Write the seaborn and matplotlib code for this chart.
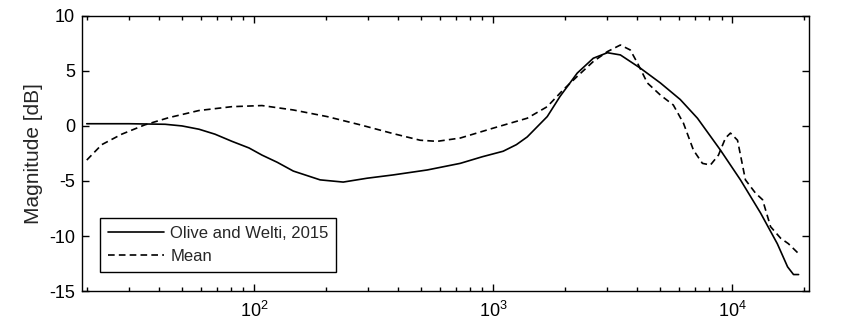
import numpy as np
import pandas as pd
import matplotlib
matplotlib.use('Agg')
import matplotlib.pyplot as plt
import seaborn as sns

# Olive and Welti, 2015 target curve
olive_freq = [20, 30, 42.5, 50, 58.9, 68.7, 80.9, 95.3, 108, 125, 146, 189, 236, 297,
              382, 530, 728, 900, 1100, 1250, 1387, 1682, 1905, 2245, 2620, 3000,
              3400, 4120, 5000, 6050, 7140, 8910, 10800, 13100, 15400, 17000,
              18000, 18900]
olive_db = [0.2, 0.2, 0.15, 0.0, -0.3, -0.75, -1.4, -2.0, -2.65, -3.3, -4.1, -4.9, -5.1, -4.75,
            -4.45, -4.0, -3.4, -2.8, -2.3, -1.7, -1.0, 0.85, 2.7, 4.8, 6.15, 6.65,
            6.45, 5.25, 3.9, 2.4, 0.7, -2.2, -4.9, -7.9, -10.7, -12.8,
            -13.5, -13.5]

# Mean curve
mean_freq = [20, 23.1, 28, 35, 44, 58.9, 80.9, 108, 146, 202, 278, 382, 495, 583, 728,
             1000, 1387, 1682, 1965, 2245, 2620, 3000, 3400, 3740, 4010, 4410, 5000,
             5660, 6240, 6870, 7490, 8090, 8740, 9350, 9810, 10500, 11330, 12480,
             13360, 14430, 15900, 17140, 18900]
mean_db = [-3.1, -1.7, -0.75, 0.1, 0.75, 1.4, 1.75, 1.85, 1.45, 0.85, 0.1, -0.7, -1.3, -1.4, -1.1,
           -0.2, 0.7, 1.75, 3.3, 4.5, 5.85, 6.75, 7.35, 6.9, 5.7, 3.9, 2.8,
           1.9, 0.25, -2.2, -3.4, -3.55, -2.65, -1.1, -0.65, -1.3, -4.9, -6.1,
           -6.7, -9.15, -10.2, -10.7, -11.6]

series_names = ['Olive and Welti, 2015', 'Mean']

df = pd.concat([
    pd.DataFrame({'freq': olive_freq, 'db': olive_db, 'curve': series_names[0]}),
    pd.DataFrame({'freq': mean_freq, 'db': mean_db, 'curve': series_names[1]}),
])

sns.set_style('ticks')
plt.rcParams['font.family'] = ['Liberation Sans', 'DejaVu Sans']
plt.rcParams['mathtext.fontset'] = 'custom'
plt.rcParams['mathtext.rm'] = 'Liberation Sans'
plt.rcParams['mathtext.it'] = 'Liberation Sans'
plt.rcParams['axes.unicode_minus'] = False

fig = plt.figure(figsize=(8.41, 3.30), dpi=100)
ax = fig.add_axes([0.0975, 0.118, 0.8645, 0.834])

sns.lineplot(data=df, x='freq', y='db', style='curve', style_order=series_names,
             dashes={series_names[0]: '', series_names[1]: (4, 2.5)},
             color='black', linewidth=1.2, sort=False, ax=ax)

ax.set_xscale('log')
ax.set_xlim(19.1, 20900)
ax.set_ylim(-15, 10)
ax.set_yticks([-15, -10, -5, 0, 5, 10])
ax.set_xlabel('')
ax.set_ylabel('Magnitude [dB]', fontsize=15, labelpad=4)

ax.tick_params(which='both', direction='in', top=True, right=True, colors='black',
               labelsize=13, width=1)
ax.tick_params(which='major', length=5)
ax.tick_params(which='minor', length=3)
ax.tick_params(axis='x', which='both', pad=7)
ax.tick_params(axis='y', which='both', pad=5)
for s in ax.spines.values():
    s.set_linewidth(1.0)
    s.set_color('black')

leg = ax.legend(loc='lower left', bbox_to_anchor=(0.025, 0.07), borderaxespad=0,
                fontsize=12, fancybox=False, edgecolor='black', framealpha=1,
                handlelength=3.35, handletextpad=0.4, borderpad=0.45,
                labelspacing=0.5)
leg.get_frame().set_linewidth(1.0)

fig.savefig('out.png', dpi=100)
